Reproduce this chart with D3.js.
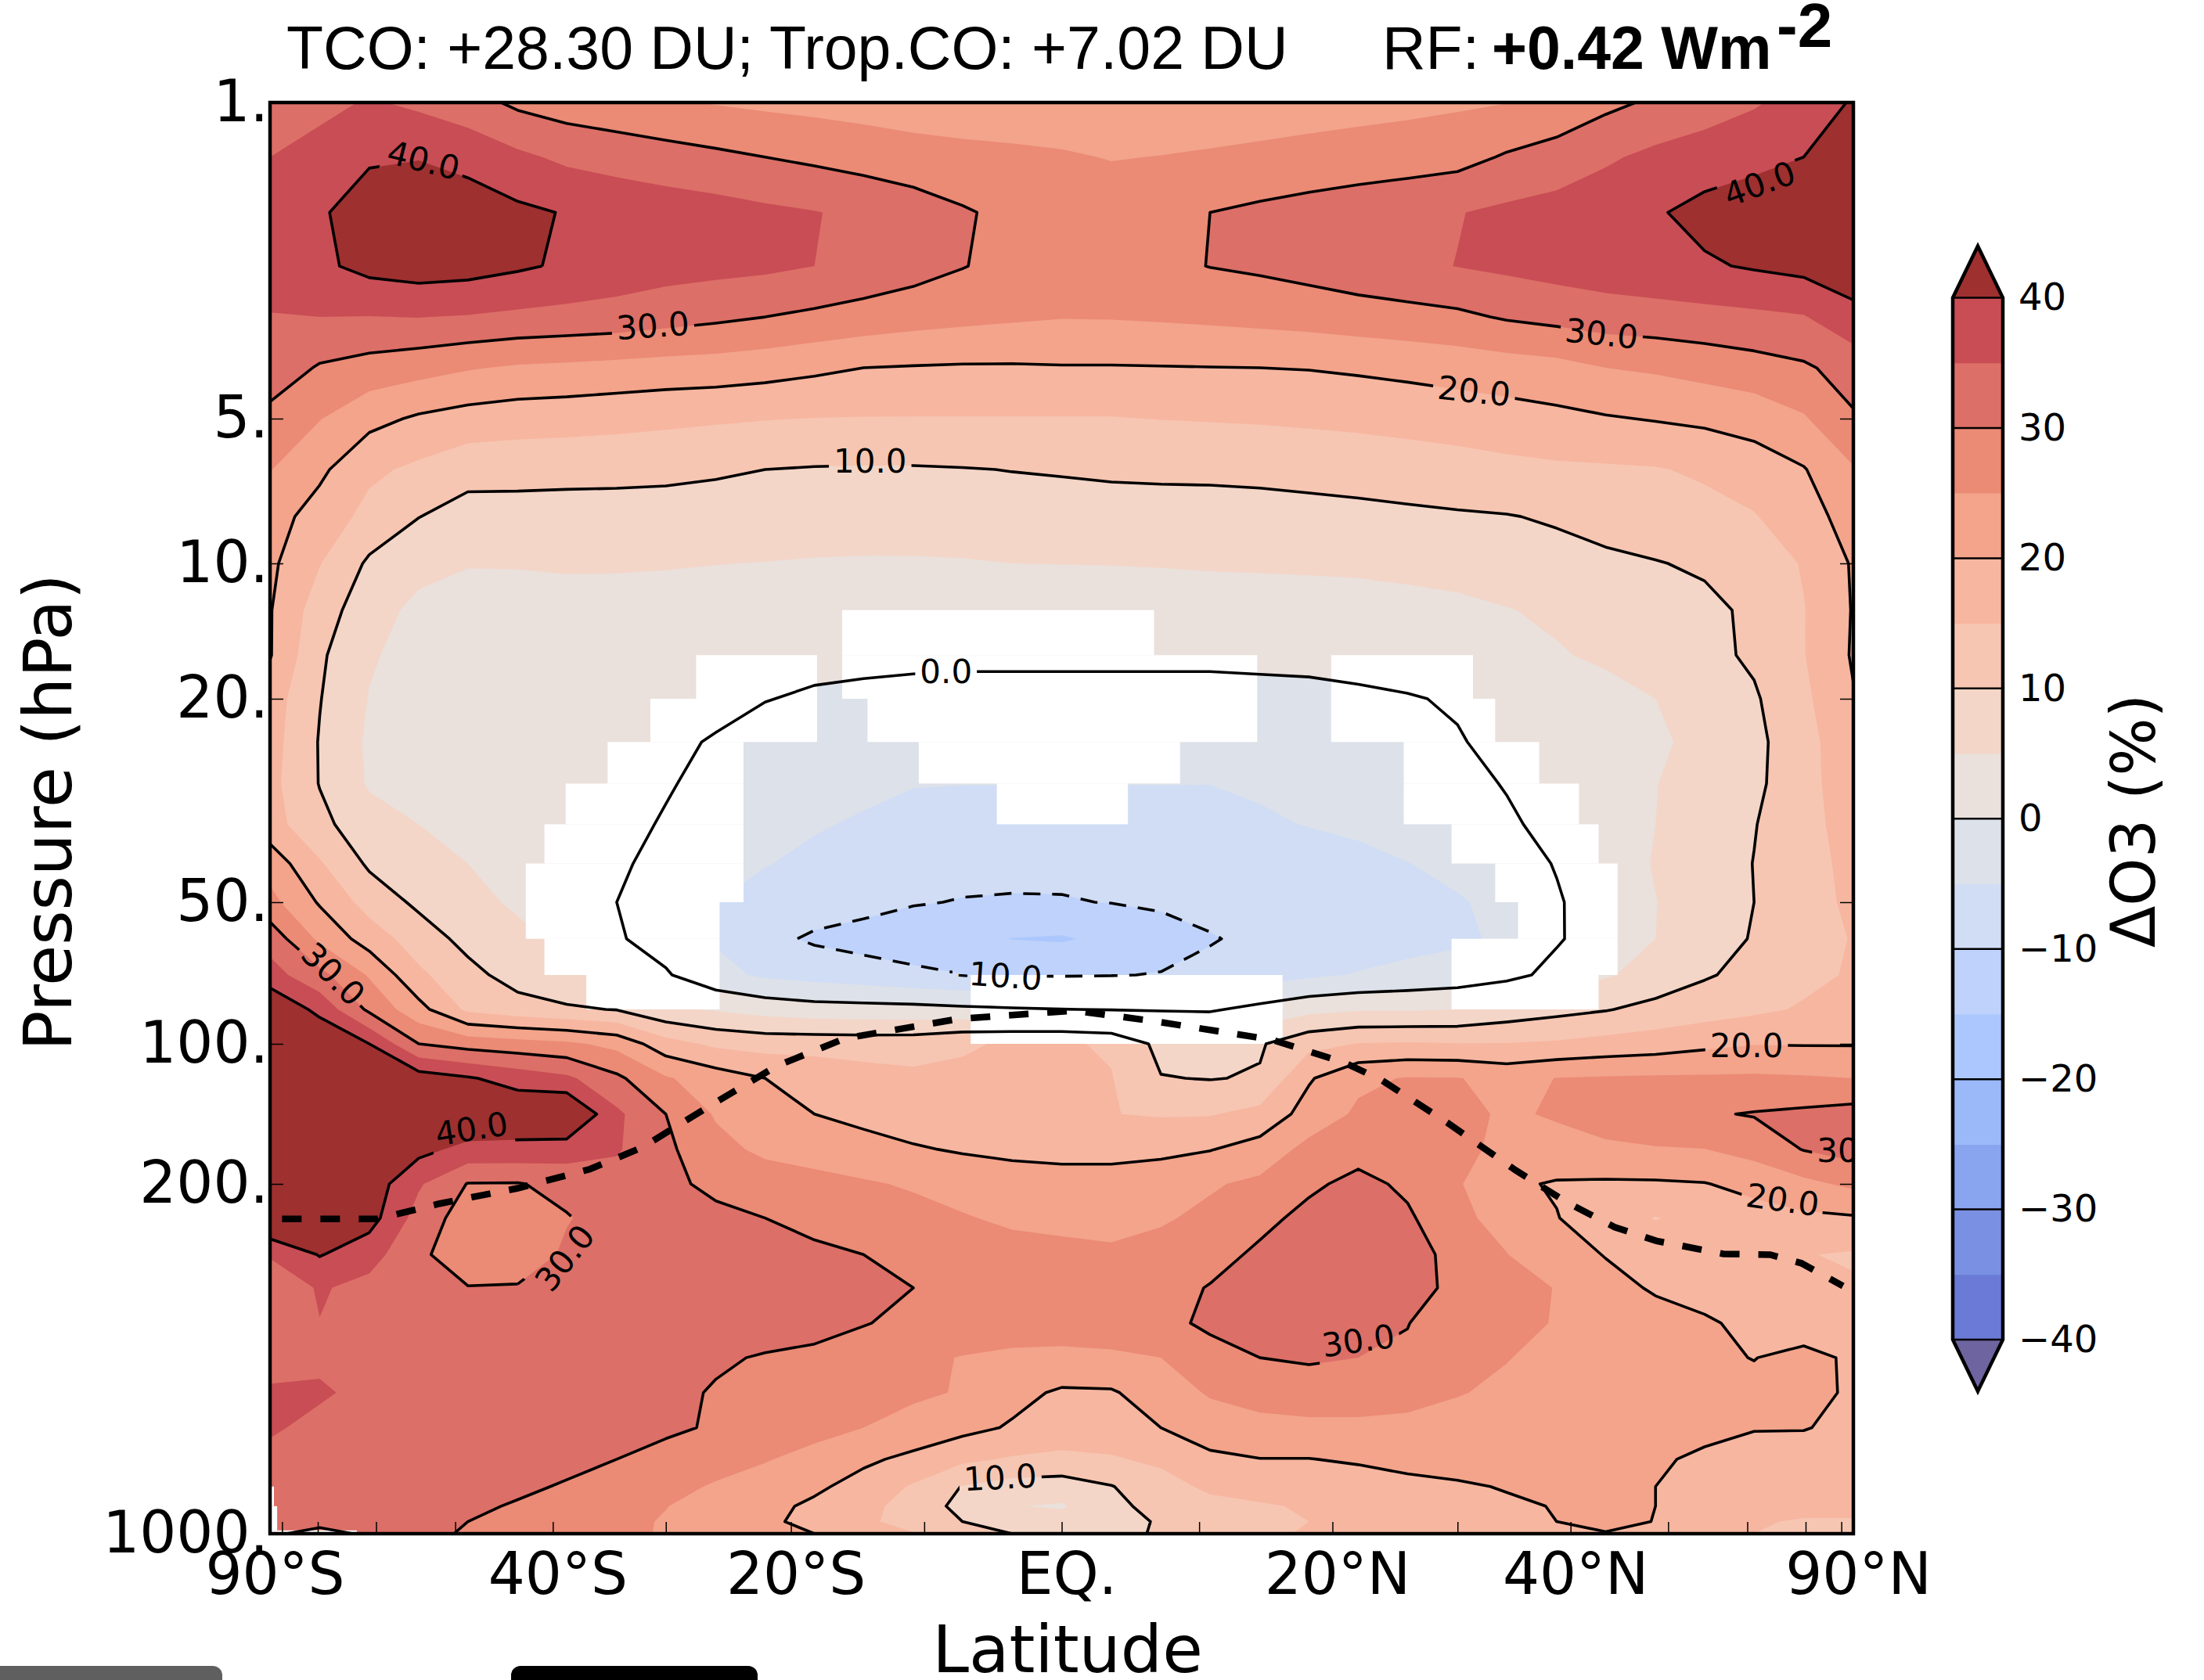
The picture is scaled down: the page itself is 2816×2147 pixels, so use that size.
<!DOCTYPE html>
<html>
<head>
<meta charset="utf-8">
<script src="https://cdn.jsdelivr.net/npm/d3@7"></script>
<style>
  html, body { margin: 0; padding: 0; background: #fff; overflow: hidden; }
  svg { display: block; }
  text { fill: #000; }
</style>
</head>
<body>
<svg id="chart" width="2816" height="2147"></svg>
<script>
// latitude columns of the field (deg)
const latitudes = [-90, -69.6, -61, -54.3, -48.6, -43.4, -38.7, -34.2, -30, -25.9, -22, -18.2, -14.5, -10.8, -7.2, -3.6, 0,
  3.6, 7.2, 10.8, 14.5, 18.2, 22, 25.9, 30, 34.2, 38.7, 43.4, 48.6, 54.3, 61, 69.6, 90];

// model levels (hPa)
const pressureLevels = [1, 1.32, 1.75, 2.3, 2.98, 3.86, 5, 6.38, 7.99, 10, 12.7, 16, 20, 24.3, 29.3, 35.2, 42, 50, 59.8,
  71.4, 84.5, 100, 118.6, 141.6, 168.6, 200, 234, 276.8, 322.7, 379.4, 445, 522.6, 614, 710, 805, 881, 946, 1000];

// ozone change (%), one row per level, one value per latitude
const dO3 = [
  [33, 33.5, 35.5, 34, 32, 29, 27.5, 26.5, 25.5, 24.7, 24, 23.5, 23, 22.5, 22, 22, 22, 22, 22, 22.3, 22.6, 23, 23.4, 23.8, 24.3, 24.9, 26.5, 28.8, 30.8, 32.5, 34.5, 37, 40.5],
  [35, 37, 39.5, 39.8, 38.5, 36, 34, 33, 32, 31, 30, 29, 28, 27, 26.5, 26, 25.5, 24.8, 25.1, 25.5, 26, 26.5, 27, 27.5, 28.3, 30.5, 32, 34.3, 36.2, 37.5, 38.5, 40, 43],
  [37, 39.5, 42, 43, 42.5, 41, 39.7, 38.5, 37.7, 37, 36, 35.2, 34, 32.5, 30.5, 28.8, 27.3, 27.5, 28.5, 30, 31, 32, 33, 34, 34.8, 36, 37, 38, 39.5, 41.5, 43, 44.5, 46],
  [37, 39, 41.5, 42.5, 42, 40.7, 39.3, 38, 37, 36.5, 36, 35, 33.5, 32, 30.2, 28.5, 27.5, 27.8, 29, 30.1, 30.8, 31.8, 33, 34, 35.1, 36, 37, 37.8, 38.5, 39.4, 40.5, 41.5, 43],
  [34.8, 35, 34.9, 35.1, 34.7, 34, 33.5, 33, 32, 31, 30, 29, 28, 27, 26.3, 25.7, 25.2, 25.3, 25.6, 26, 26.5, 27, 27.7, 28.3, 29, 30.5, 31.5, 32.5, 33, 33.5, 34, 34.7, 38.5],
  [33, 29.5, 28, 26.8, 25.4, 24.4, 24, 23.5, 23, 22.7, 22, 21, 20, 19.7, 19.5, 19.5, 19.7, 19.7, 19.8, 19.9, 20, 20.2, 20.7, 21.3, 22, 22.7, 23.4, 25, 25.7, 26.8, 28, 29.3, 32],
  [28.5, 25.2, 21.5, 19.3, 18, 17.3, 17, 16.5, 16, 15.6, 15.2, 14.9, 14.8, 14.8, 14.8, 14.8, 14.8, 14.8, 15.1, 15.3, 15.5, 15.8, 16.2, 16.7, 17.3, 18, 18.8, 19.6, 20.3, 21, 22, 24.5, 29.5],
  [25.2, 21, 16, 14, 11.8, 11.7, 11.6, 11.6, 11.4, 10.7, 10, 9.7, 9.6, 9.6, 9.8, 10.1, 10.4, 10.8, 11, 11, 11.3, 11.7, 12, 12.5, 13, 13.7, 14.2, 14.4, 14.7, 15.7, 17.5, 19.7, 24.6],
  [22, 18, 13.5, 10.1, 8, 8, 7.8, 7.6, 7.4, 7.4, 7.6, 7.8, 8, 8.2, 8.2, 8, 7.8, 7.8, 7.8, 8, 8, 8.3, 8.7, 9.1, 9.5, 9.8, 10.5, 11.5, 12.5, 13.5, 14.7, 18, 22],
  [21, 15.2, 9.2, 6.5, 5.2, 5.3, 5.6, 5.6, 5.4, 5.1, 4.9, 4.6, 4.4, 4.4, 4.6, 5, 5.1, 5.2, 5.4, 5.7, 5.8, 5.9, 6, 6.5, 7, 7.7, 8.5, 9.2, 9.8, 10.6, 12, 15.4, 20.5],
  [20.3, 12.5, 7, 3.8, 3.3, 3, 3, 2.8, 2.6, 2.4, 2.2, 2, 1.6, 1.2, 1, 1, 1, 1, 1.2, 1.6, 2, 2.4, 2.8, 3.2, 3.8, 4.8, 5.8, 6.8, 7.8, 9, 10.8, 14.8, 20.3],
  [20.3, 10.8, 5.5, 3.3, 2.8, 2.5, 2.3, 2, 1.8, 1.4, 1.1, 0.9, 0.7, 0.6, 0.6, 0.6, 0.6, 0.6, 0.6, 0.6, 0.7, 0.8, 1, 1.4, 2, 3, 4.6, 5.8, 7, 8.6, 10.8, 14.8, 20.5],
  [17.5, 10.2, 4.8, 3, 2.5, 2.2, 2, 1.6, 1.2, 0.7, 0.1, -0.4, -0.6, -0.8, -1, -1, -1, -1, -1, -1, -0.9, -0.8, -0.5, -0.2, 0.3, 0.9, 2, 3.4, 5, 7, 9.4, 14, 19.7],
  [17, 9.7, 4.2, 2.8, 2.3, 2, 1.5, 1, 0.5, -0.2, -1.2, -2, -2.5, -3, -3.5, -3.5, -3.5, -3.5, -3.4, -3.2, -3, -2.5, -2, -1.2, -0.2, 0.8, 2, 3, 4.3, 6.2, 8.8, 13, 19],
  [16.5, 9.8, 4.5, 2.8, 2.3, 2, 1.5, 1, 0.3, -1, -2, -3, -4, -4.8, -4.9, -4.9, -4.9, -4.9, -4.9, -4.95, -4.3, -3.6, -2.9, -2, -1, 0.2, 1.5, 3, 4.9, 6.6, 9, 13, 18.5],
  [17, 11.3, 7, 5, 3.5, 2.5, 1.5, 1, -0.3, -2, -3.3, -4.6, -5.5, -6.5, -7, -7.5, -7.8, -7.8, -7.3, -6.6, -5.7, -4.8, -3.9, -2.9, -1.8, -0.5, 1, 3, 5, 7, 9.8, 13, 17.5],
  [23, 15.5, 9.2, 7, 5, 3.5, 2.3, 0.5, -1, -3, -4.8, -6, -7, -8, -8.6, -9, -9.2, -9.2, -9.2, -8.7, -8, -7.3, -6.5, -5.1, -3.8, -2.3, 0.3, 2.6, 5.3, 7.5, 10.1, 13, 16.5],
  [26.5, 19.5, 13, 9, 6.2, 4.4, 3, 0, -2.5, -5, -6.7, -7.7, -8.5, -9.7, -10.2, -10.3, -10.2, -9.9, -9.3, -8.7, -8, -7.3, -6.6, -6, -5.4, -3.8, -0.5, 2.7, 4.9, 7.3, 10, 13, 16],
  [33, 24, 17.7, 12.5, 8.5, 6, 4, 0.5, -2, -5.5, -8.7, -10.7, -11.8, -12.6, -13.6, -15.1, -15.5, -13.8, -12, -10.3, -9, -8, -7.3, -6.6, -5.8, -4.2, -0.5, 2.6, 5, 7.5, 10.4, 13.5, 15.2],
  [37, 31.5, 24.5, 16, 11.5, 8, 6, 3, 0.5, -3.5, -5.8, -6.8, -7.8, -9, -9.9, -10.3, -10.4, -10.2, -9.8, -8.8, -7.5, -5.8, -4.7, -3.7, -2.9, -1.5, 1.5, 4.5, 6.8, 9.5, 11.5, 13.8, 15.5],
  [45, 38.5, 29, 21.7, 14, 12, 10.7, 9.8, 6, 4.5, 3, 2, 1.8, 1.6, 1, 0.5, 0.1, -0.2, -0.4, -0.6, 1.5, 3.5, 4.5, 4.5, 5, 7, 8.5, 9.7, 11.5, 12.8, 14, 15.5, 16.5],
  [48, 45, 40, 30, 28, 27, 26, 23.5, 17, 14, 13, 13, 12.8, 13, 14.7, 15.3, 15.5, 14.5, 8.5, 8, 9.5, 13.5, 15.2, 15.5, 15.2, 15.2, 15.7, 16.7, 17.5, 18.8, 19.8, 19.7, 19.7],
  [48, 47, 45, 42.5, 40.5, 38, 36, 31, 25.5, 22.5, 20, 18.5, 17, 16, 15.5, 16.5, 16.8, 15.2, 10.2, 9.8, 10.4, 19.5, 24, 25.3, 25.2, 23.5, 25.1, 25.5, 25.7, 25.7, 25.8, 25.5, 25],
  [48, 48, 47, 46, 45, 44, 46, 36, 30, 24.5, 22, 20, 18.5, 17.3, 16.5, 16, 15.5, 15.1, 14.6, 14.7, 16.5, 22, 25.8, 26.5, 25.8, 24.6, 25.3, 26.5, 28, 29.5, 30.3, 31, 32],
  [48, 46, 44, 41.5, 38.5, 38.5, 37.5, 35.5, 31, 26.5, 24, 23, 22, 20.5, 19.5, 18.8, 18.5, 18.5, 18.8, 19.8, 22, 26.5, 28, 28, 26, 24, 24, 24.4, 24.7, 24.9, 26.8, 30.2, 32],
  [48, 46, 43, 35.6, 29.8, 29.7, 31.5, 33, 31, 29, 27.5, 26.5, 25.5, 24.5, 23.5, 22.5, 22, 22, 23, 24.5, 26, 29, 31.5, 29, 25.5, 21, 19.5, 19.3, 19.4, 19.8, 21.5, 23.8, 26],
  [46, 45, 42, 33, 27.5, 27, 29.7, 32, 32.5, 31, 30, 28.5, 27.5, 26.5, 25.3, 24.3, 24, 23, 24.5, 26, 28.5, 31.5, 34, 30.8, 26, 23.5, 20.2, 17, 14.8, 16.5, 18, 19, 19.5],
  [35.5, 40.3, 37, 31, 27, 27, 30.8, 32, 33, 32.5, 32, 31, 30, 29, 27.5, 26.5, 26, 26, 26.5, 28, 31, 33.5, 34.5, 32.5, 28, 25.1, 22, 19.8, 18, 18, 18.5, 15.2, 14.5],
  [31.5, 35.5, 33.5, 31.5, 30.2, 30.4, 31.5, 33, 33.5, 33.5, 33.5, 33, 32, 30, 28.5, 27.5, 27, 27, 28, 30.3, 32.5, 34.2, 34.8, 31.5, 29, 27, 24.8, 21.5, 19.5, 18.5, 18, 16.5, 15.5],
  [31, 34.9, 33, 33, 33, 33, 33.5, 33.5, 33.5, 33, 33, 32, 30.2, 29, 28, 27.5, 27, 27.5, 28.5, 31, 33.5, 34.5, 33.5, 30.1, 28, 26.5, 24.7, 23, 21.7, 20.5, 19, 17.5, 16],
  [32, 33.5, 33, 33, 33, 33, 32.5, 32.5, 32, 30.8, 29.5, 28.7, 28, 26, 24.8, 24, 24, 24.2, 25, 28, 30, 30.5, 30, 29.5, 27.5, 25.2, 23.5, 22.5, 21.5, 20.7, 19.9, 21.3, 19.3],
  [36, 36, 33, 33, 33, 32.5, 32, 32, 31.5, 29.5, 27, 26.5, 26, 25.7, 24.7, 21.5, 19.3, 19.5, 22.5, 25.5, 27, 28, 28, 27, 25.3, 24, 23, 22.5, 22, 21.5, 21, 21.5, 19.3],
  [36, 33, 32.5, 32.5, 32.5, 32, 32, 31.5, 30.8, 29.5, 28, 26.5, 25, 23.5, 21.5, 19.5, 17.5, 18, 20, 22.5, 23.5, 23.7, 23.7, 23.5, 23, 22.5, 22, 22.5, 22.5, 22, 20.2, 20.2, 19],
  [33, 32.5, 32, 32, 32, 32, 31.5, 30, 28.5, 27, 25.3, 23.5, 21, 18.7, 16, 14.5, 14, 14.5, 16, 19, 19.9, 19.9, 20.5, 21.5, 22, 22, 22, 22, 21, 18.7, 18.5, 18, 18],
  [31, 31, 31, 31, 31, 31, 29.5, 28, 26.5, 24.5, 23, 21, 18, 14.5, 9.8, 8, 7.5, 9.8, 13, 16, 17, 17.5, 18, 18.7, 19.4, 20.3, 21, 21.5, 20, 18.5, 17, 17, 17],
  [31, 31, 31, 31, 31, 29.5, 28, 26.5, 25.1, 23.5, 21.5, 19, 16.5, 13, 8.5, 5.2, 4.5, 8.5, 12, 13.5, 14.5, 15.5, 16.5, 18, 19, 19.3, 20.2, 21, 20, 17.5, 16.5, 16, 16],
  [31, 31, 31, 30.5, 30, 28.5, 27.5, 26, 24.7, 23, 21, 18.5, 16, 13, 10, 7.5, 7, 8.5, 10.4, 12, 14, 15, 15.5, 17, 18, 19, 20, 21, 19.9, 17, 15.3, 14.7, 14.7],
  [30.5, 29, 30.5, 30.5, 29.8, 28.5, 27.5, 25.8, 24.7, 23, 21, 20, 16.5, 15.3, 12, 10, 8.5, 9, 10.4, 12, 14, 15.5, 16, 17, 18, 19, 19.7, 19.8, 19.5, 16.5, 15, 14, 14]
];

// cells left blank in the field: [pressure top, pressure bottom, lat from, lat to]
const blankCells = [
  [12.7, 16, -16.1, 6.7],
  [16, 20, -27.5, -18], [16, 20, -16.1, 14.3], [16, 20, 19.9, 31.3],
  [20, 24.3, -31.3, -18], [20, 24.3, -14.2, 14.3], [20, 24.3, 19.9, 33.2],
  [24.3, 29.3, -35, -23.7], [24.3, 29.3, -10.4, 8.6], [24.3, 29.3, 25.6, 37.1],
  [29.3, 35.2, -38.8, -23.7], [29.3, 35.2, -4.7, 4.8], [29.3, 35.2, 25.6, 40.8],
  [35.2, 42, -40.8, -23.7], [35.2, 42, 29.5, 42.7],
  [42, 50, -42.6, -23.7], [42, 50, 33.2, 44.6],
  [50, 59.8, -42.6, -25.6], [50, 59.8, 35.2, 44.6],
  [59.8, 71.4, -40.8, -25.6], [59.8, 71.4, 29.5, 44.6],
  [71.4, 84.5, -36.9, -25.6], [71.4, 84.5, -6.6, 16.2], [71.4, 84.5, 29.5, 42.7],
  [84.5, 100, -6.6, 16.2],
  [805, 881, -90, -84.3], [881, 985, -90, -82.3], [985, 1000, -90, -62.9]
];

// tropopause
const tropLat = [-80, -59.8, -51.8, -43.4, -36.6, -32, -26.8, -21.1, -15.9, -7.5, 0.9, 6.6, 15.4, 20.9, 23.8, 29.2, 35, 39.7, 44.3, 48.7, 56.7, 63.5, 69.1, 80.7];
const tropP = [235, 235, 219, 204, 186, 167, 138, 111.6, 97.4, 88.5, 85, 89.4, 98, 109.7, 119.5, 148, 187, 218, 244, 260, 276, 277, 288, 320];

// inline contour labels
const labelText = ['40.0', '30.0', '10.0', '40.0', '30.0', '20.0', '0.0', '-10.0', '30.0', '40.0', '30.0', '30.0', '10.0', '20.0', '20.0', '30.0'];
const labelLat = [-53.7, -31.1, -14, 61.8, 43, 31.4, -8.4, -4.5, -66.9, -48.2, -38.9, 22, -4.45, 59.9, 65.6, 90];
const labelP = [1.34, 3.11, 6.12, 1.51, 3.24, 4.34, 17.4, 71.5, 71, 152, 281, 411, 771, 100.8, 215, 169];
const labelAngle = [14, -4, 0, -20, 6, 6, 0, 4, 45, -9, -52, -8, -3, 0, 8, 0];

const bandEdges = d3.range(-40, 45, 5);
const bandColors = ['#6a7ad6', '#7a90e2', '#89a5ef', '#9bb8f9', '#abc7fe', '#bed2fb', '#d0ddf5', '#dde1e9',
  '#eae0dc', '#f3d6c8', '#f6c6b2', '#f7b6a0', '#f3a48b', '#eb8a75', '#dc6f67', '#c94d55'];
const underColor = '#6e64a0';
const overColor = '#9e3030';
const lineLevels = [-10, 0, 10, 20, 30, 40];

const pressureTicks = [1, 5, 10, 20, 50, 100, 200, 1000];
const latTicks = [-90, -80, -70, -60, -50, -40, -30, -20, -10, 0, 10, 20, 30, 40, 50, 60, 70, 80, 90];
const latTickNames = { '-90': '90°S', '-40': '40°S', '-20': '20°S', 0: 'EQ.', 20: '20°N', 40: '40°N', 90: '90°N' };
const barTicks = [40, 30, 20, 10, 0, -10, -20, -30, -40];

const plot = { left: 345, right: 2368, top: 131, bottom: 1960 };
const sinLat = (d) => Math.sin((d * Math.PI) / 180);

let xSine = d3.scaleLinear().domain([-1, 1]).range([plot.left, plot.right]);
let xScale = (d) => xSine(sinLat(d));
// the level spacing is not quite log, so the log scale is pinned at each labelled tick
let yScale = d3
  .scaleLog()
  .domain(pressureTicks)
  .range([131, 535, 720, 893, 1153, 1334, 1513, 1960]);

const nx = latitudes.length;
const ny = pressureLevels.length;
const flat = dO3.flat();
let xIndex = d3.scaleLinear().domain(d3.range(nx)).range(latitudes.map(xScale)).clamp(true);
let yIndex = d3.scaleLinear().domain(d3.range(ny)).range(pressureLevels.map(yScale)).clamp(true);

let contours = d3.contours().size([nx, ny]).smooth(true);
let gridPath = d3.geoPath(
  d3.geoTransform({
    point: function (x, y) {
      this.stream.point(xIndex(x - 0.5), yIndex(y - 0.5));
    },
  })
);

// contour rings without the stretches that run along the edge of the grid
function linePath(level) {
  let d = '';
  contours.contour(flat, level).coordinates.forEach((polygon) => {
    polygon.forEach((ring) => {
      let open = false;
      for (let i = 1; i < ring.length; i++) {
        let a = ring[i - 1];
        let b = ring[i];
        let onEdge =
          (a[0] <= 0.5 && b[0] <= 0.5) ||
          (a[0] >= nx - 0.5 && b[0] >= nx - 0.5) ||
          (a[1] <= 0.5 && b[1] <= 0.5) ||
          (a[1] >= ny - 0.5 && b[1] >= ny - 0.5);
        if (onEdge) {
          open = false;
          continue;
        }
        if (!open) d += 'M' + xIndex(a[0] - 0.5) + ',' + yIndex(a[1] - 0.5);
        d += 'L' + xIndex(b[0] - 0.5) + ',' + yIndex(b[1] - 0.5);
        open = true;
      }
    });
  });
  return d;
}

let svg = d3.select('#chart');
let defs = svg.append('defs');

defs
  .append('clipPath')
  .attr('id', 'plot-clip')
  .append('rect')
  .attr('x', plot.left)
  .attr('y', plot.top)
  .attr('width', plot.right - plot.left)
  .attr('height', plot.bottom - plot.top);

let field = svg.append('g').attr('clip-path', 'url(#plot-clip)');

// filled bands, painted from the lowest level up
field
  .append('rect')
  .attr('x', plot.left)
  .attr('y', plot.top)
  .attr('width', plot.right - plot.left)
  .attr('height', plot.bottom - plot.top)
  .attr('fill', underColor);

bandEdges.forEach((edge, i) => {
  field
    .append('path')
    .attr('d', gridPath(contours.contour(flat, edge)))
    .attr('fill', i < bandColors.length ? bandColors[i] : overColor);
});

// blank cells
field
  .selectAll('.blank')
  .data(blankCells)
  .join('rect')
  .attr('class', 'blank')
  .attr('x', (d) => xScale(d[2]))
  .attr('width', (d) => xScale(d[3]) - xScale(d[2]))
  .attr('y', (d) => yScale(d[0]))
  .attr('height', (d) => yScale(d[1]) - yScale(d[0]))
  .attr('fill', '#fff');

// contour lines with a gap under each label
let labels = field
  .selectAll('.clabel')
  .data(labelText)
  .join('text')
  .attr('class', 'clabel')
  .attr('font-family', 'DejaVu Sans')
  .attr('font-size', 42)
  .attr('text-anchor', 'middle')
  .attr('dy', '0.36em')
  .attr('transform', (d, i) => 'translate(' + xScale(labelLat[i]) + ',' + yScale(labelP[i]) + ') rotate(' + labelAngle[i] + ')')
  .text((d) => d);

let mask = defs.append('mask').attr('id', 'label-gaps').attr('maskUnits', 'userSpaceOnUse')
  .attr('x', 0).attr('y', 0).attr('width', 2816).attr('height', 2147);
mask.append('rect').attr('width', 2816).attr('height', 2147).attr('fill', '#fff');
labels.each(function (d, i) {
  let w = this.getComputedTextLength() + 12;
  mask
    .append('rect')
    .attr('x', -w / 2)
    .attr('y', -26)
    .attr('width', w)
    .attr('height', 52)
    .attr('fill', '#000')
    .attr('transform', 'translate(' + xScale(labelLat[i]) + ',' + yScale(labelP[i]) + ') rotate(' + labelAngle[i] + ')');
});

let lines = field.insert('g', '.clabel').attr('mask', 'url(#label-gaps)');
lineLevels.forEach((level) => {
  lines
    .append('path')
    .attr('d', linePath(level))
    .attr('fill', 'none')
    .attr('stroke', '#000')
    .attr('stroke-width', 3.6)
    .attr('stroke-linejoin', 'round')
    .attr('stroke-dasharray', level < 0 ? '22,15' : null);
});

// tropopause
field
  .append('path')
  .datum(d3.zip(tropLat, tropP))
  .attr(
    'd',
    d3
      .line()
      .x((d) => xScale(d[0]))
      .y((d) => yScale(d[1]))
  )
  .attr('fill', 'none')
  .attr('stroke', '#000')
  .attr('stroke-width', 8.5)
  .attr('stroke-dasharray', '25,24');

// axes
let yAxis = d3
  .axisLeft(yScale)
  .tickValues(pressureTicks)
  .tickSize(-17)
  .tickPadding(2)
  .tickFormat((d) => d + '.');
let yAxisRight = d3.axisRight(yScale).tickValues(pressureTicks).tickSize(-17).tickFormat('');
let xAxis = d3
  .axisBottom(xSine)
  .tickValues(latTicks.map(sinLat))
  .tickSize(-15)
  .tickPadding(24.5)
  .tickFormat((d, i) => latTickNames[latTicks[i]] || '');

function styleAxis(g, size) {
  g.attr('font-family', 'DejaVu Sans').attr('font-size', size);
  g.select('.domain').remove();
  g.selectAll('.tick line').attr('stroke', '#000').attr('stroke-width', 1.5);
  g.selectAll('.tick text').attr('fill', '#000');
}

svg
  .append('g')
  .attr('transform', 'translate(' + plot.left + ',0)')
  .call(yAxis)
  .call(styleAxis, 74);
svg
  .append('g')
  .attr('transform', 'translate(' + plot.right + ',0)')
  .call(yAxisRight)
  .call(styleAxis, 74);
svg
  .append('g')
  .attr('transform', 'translate(0,' + plot.bottom + ')')
  .call(xAxis)
  .call(styleAxis, 74)
  .selectAll('.tick text')
  .attr('dx', 6);

svg
  .append('rect')
  .attr('x', plot.left)
  .attr('y', plot.top)
  .attr('width', plot.right - plot.left)
  .attr('height', plot.bottom - plot.top)
  .attr('fill', 'none')
  .attr('stroke', '#000')
  .attr('stroke-width', 4.5);

// axis titles
svg
  .append('text')
  .attr('font-family', 'DejaVu Sans')
  .attr('font-size', 84)
  .attr('text-anchor', 'middle')
  .attr('x', 1364)
  .attr('y', 2137)
  .text('Latitude');
svg
  .append('text')
  .attr('font-family', 'DejaVu Sans')
  .attr('font-size', 85)
  .attr('text-anchor', 'middle')
  .attr('transform', 'translate(91,1038) rotate(-90)')
  .text('Pressure (hPa)');

// heading
let heading = svg.append('g').attr('font-family', 'Liberation Sans');
heading.append('text').attr('x', 366).attr('y', 88).attr('font-size', 77).text('TCO: +28.30 DU; Trop.CO: +7.02 DU');
heading.append('text').attr('x', 1766).attr('y', 88).attr('font-size', 77).text('RF:');
heading.append('text').attr('x', 1906).attr('y', 88).attr('font-size', 77).attr('font-weight', 'bold').text('+0.42 Wm');
heading.append('text').attr('x', 2270).attr('y', 60).attr('font-size', 80).attr('font-weight', 'bold').text('-2');

// colour bar
const bar = { left: 2495, right: 2559, cap: 66 };
let barScale = d3.scaleLinear().domain([-40, 40]).range([1712, 380.5]);
let barG = svg.append('g');
barG
  .selectAll('.band')
  .data(bandColors)
  .join('rect')
  .attr('class', 'band')
  .attr('x', bar.left)
  .attr('width', bar.right - bar.left)
  .attr('y', (d, i) => barScale(bandEdges[i + 1]))
  .attr('height', (d, i) => barScale(bandEdges[i]) - barScale(bandEdges[i + 1]) + 0.5)
  .attr('fill', (d) => d);

const barMid = (bar.left + bar.right) / 2;
barG
  .append('path')
  .attr('d', 'M' + bar.left + ',' + barScale(40) + 'L' + barMid + ',' + (barScale(40) - bar.cap) + 'L' + bar.right + ',' + barScale(40) + 'Z')
  .attr('fill', overColor);
barG
  .append('path')
  .attr('d', 'M' + bar.left + ',' + barScale(-40) + 'L' + barMid + ',' + (barScale(-40) + bar.cap) + 'L' + bar.right + ',' + barScale(-40) + 'Z')
  .attr('fill', underColor);

barG
  .selectAll('.level')
  .data(barTicks)
  .join('line')
  .attr('class', 'level')
  .attr('x1', bar.left)
  .attr('x2', bar.right)
  .attr('y1', (d) => barScale(d))
  .attr('y2', (d) => barScale(d))
  .attr('stroke', '#000')
  .attr('stroke-width', 2.5);

barG
  .append('path')
  .attr(
    'd',
    'M' + bar.left + ',' + barScale(40) + 'L' + barMid + ',' + (barScale(40) - bar.cap) + 'L' + bar.right + ',' + barScale(40) +
      'L' + bar.right + ',' + barScale(-40) + 'L' + barMid + ',' + (barScale(-40) + bar.cap) + 'L' + bar.left + ',' + barScale(-40) + 'Z'
  )
  .attr('fill', 'none')
  .attr('stroke', '#000')
  .attr('stroke-width', 4.5);

let barAxis = d3
  .axisRight(barScale)
  .tickValues(barTicks)
  .tickSize(0)
  .tickPadding(20)
  .tickFormat((d) => (d < 0 ? '\u2212' + -d : d));
svg
  .append('g')
  .attr('transform', 'translate(' + bar.right + ',0)')
  .call(barAxis)
  .call(styleAxis, 48);

svg
  .append('text')
  .attr('font-family', 'DejaVu Sans')
  .attr('font-size', 78)
  .attr('text-anchor', 'middle')
  .attr('transform', 'translate(2753,1049) rotate(-90)')
  .text('ΔO3 (%)');

// the two bars cut off at the foot of the picture
svg.append('rect').attr('x', -20).attr('y', 2129).attr('width', 304).attr('height', 60).attr('rx', 12).attr('fill', '#5f5f5f');
svg.append('rect').attr('x', 653).attr('y', 2129).attr('width', 315).attr('height', 60).attr('rx', 12).attr('fill', '#000');
</script>
</body>
</html>
